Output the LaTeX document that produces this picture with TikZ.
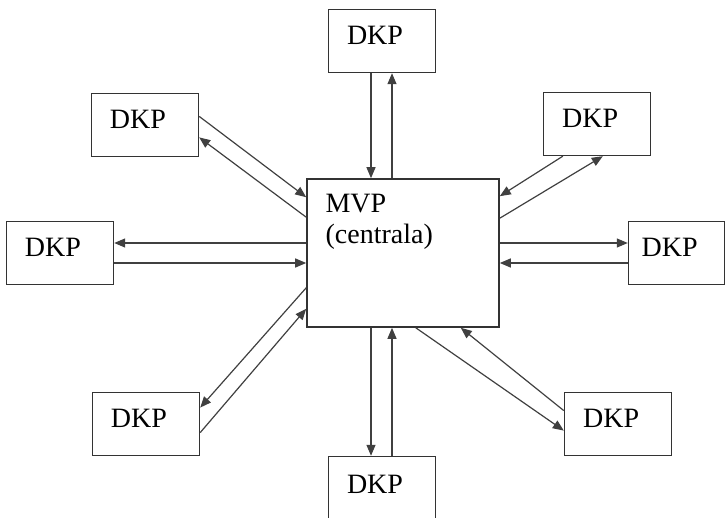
\documentclass[tikz,border=0pt]{standalone}
\usepackage{fontspec}
\setmainfont{Liberation Serif}
\usetikzlibrary{positioning,arrows.meta}

\begin{document}
\begin{tikzpicture}[node distance=32pt and 32pt,
    font=\fontsize{14pt}{15.5pt}\selectfont,
    dkp/.style={draw=black!80,line width=0.8pt,minimum width=53.5pt,minimum height=31.5pt,
      text depth=6pt,execute at end node={\hspace{7pt}}},
    link/.style={draw=black!75,line width=0.6pt,-{Triangle[length=5.5pt,width=4.5pt]}}]
  \useasboundingbox (0,0) rectangle (363.5pt,-259pt);
  \node (mvp) [draw=black!80,line width=0.8pt,minimum width=96pt,minimum height=74pt] at (201.5pt,-126.5pt) {};
  \node (mvptext) [anchor=north west,inner sep=0pt,align=left] at ([xshift=9.5pt,yshift=-8pt]mvp.north west) {MVP\\(centrala)};
  \node (dkpn) [dkp,above=52.5pt of mvp,xshift=-10.5pt] {DKP};
  \node (dkpnw) [dkp,above left=10.5pt and 53.5pt of mvp] {DKP};
  \node (dkpne) [dkp,above right=11pt and 21.5pt of mvp] {DKP};
  \node (dkpw) [dkp,left=96pt of mvp] {DKP};
  \node (dkpe) [dkp,right=64pt of mvp,minimum width=48pt] {DKP};
  \node (dkpsw) [dkp,below left=32pt and 53pt of mvp] {DKP};
  \node (dkpse) [dkp,below right=32pt and 32pt of mvp] {DKP};
  \node (dkps) [dkp,below=64pt of mvp,xshift=-10.5pt,minimum height=34pt] {DKP};
  % top
  \draw[link] ([xshift=-5.5pt]dkpn.south) -- ([xshift=-5.5pt]dkpn.south |- mvp.north);
  \draw[link] ([xshift=5pt]dkpn.south |- mvp.north) -- ([xshift=5pt]dkpn.south);
  % top left
  \draw[link] ([yshift=4.25pt]dkpnw.east) -- ([yshift=-9.5pt]mvp.north west);
  \draw[link] ([yshift=-19.5pt]mvp.north west) -- ([yshift=-6.25pt]dkpnw.east);
  % left
  \draw[link] ([yshift=5pt]dkpw.east -| mvp.west) -- ([yshift=5pt]dkpw.east);
  \draw[link] ([yshift=-5pt]dkpw.east) -- ([yshift=-5pt]dkpw.east -| mvp.west);
  % bottom left
  \draw[link] ([yshift=20pt]mvp.south west) -- ([yshift=8.25pt]dkpsw.east);
  \draw[link] ([yshift=-4.25pt]dkpsw.east) -- ([yshift=9.5pt]mvp.south west);
  % bottom
  \draw[link] ([xshift=-5.5pt]dkps.north |- mvp.south) -- ([xshift=-5.5pt]dkps.north);
  \draw[link] ([xshift=5pt]dkps.north) -- ([xshift=5pt]dkps.north |- mvp.south);
  % bottom right
  \draw[link] ([xshift=-42pt]mvp.south east) -- ([yshift=-3.25pt]dkpse.west);
  \draw[link] ([yshift=6.75pt]dkpse.west) -- ([xshift=-19.5pt]mvp.south east);
  % right
  \draw[link] ([yshift=5pt]dkpe.west -| mvp.east) -- ([yshift=5pt]dkpe.west);
  \draw[link] ([yshift=-5pt]dkpe.west) -- ([yshift=-5pt]dkpe.west -| mvp.east);
  % top right
  \draw[link] ([xshift=10pt]dkpne.south west) -- ([yshift=-9pt]mvp.north east);
  \draw[link] ([yshift=-20pt]mvp.north east) -- ([xshift=30pt]dkpne.south west);
\end{tikzpicture}
\end{document}
